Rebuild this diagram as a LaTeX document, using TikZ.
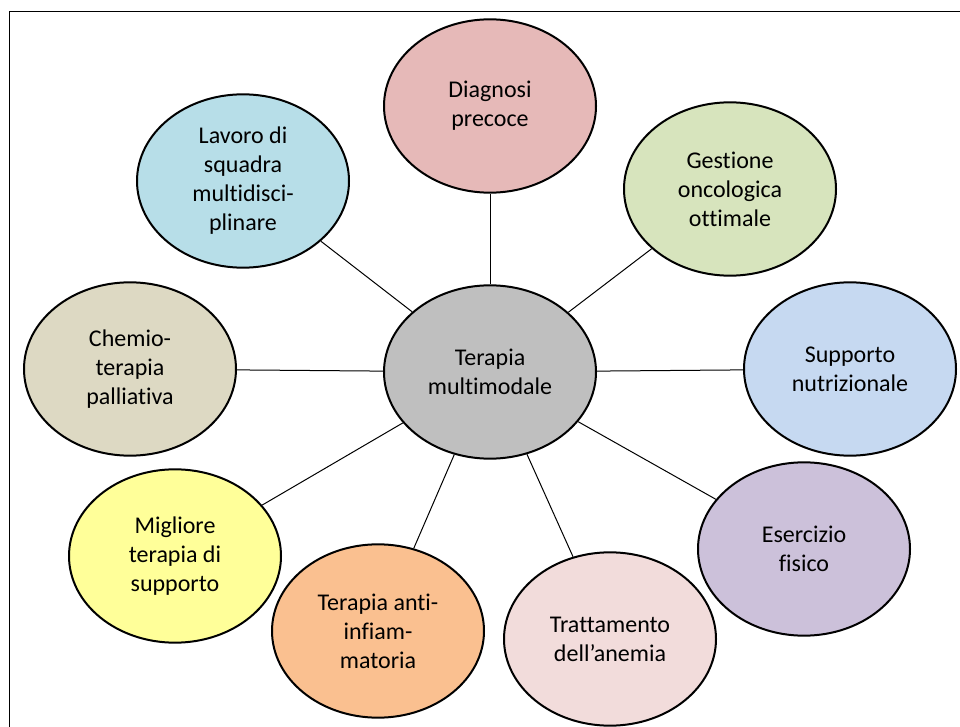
\documentclass[tikz,border=0pt]{standalone}
\usepackage{fontspec}
\setmainfont[Ligatures=NoCommon]{Carlito}
\usetikzlibrary{shapes.geometric}
\definecolor{diagpink}{HTML}{E6B9B8}
\definecolor{teamblue}{HTML}{B7DEE8}
\definecolor{oncogreen}{HTML}{D7E4BD}
\definecolor{nutriblue}{HTML}{C6D9F1}
\definecolor{eserlilac}{HTML}{CCC1DA}
\definecolor{anemrose}{HTML}{F2DCDB}
\definecolor{inflorange}{HTML}{FAC090}
\definecolor{suppyellow}{HTML}{FFFF99}
\definecolor{chemobeige}{HTML}{DDD9C3}
\definecolor{centergray}{HTML}{BFBFBF}
\begin{document}
\begin{tikzpicture}[x=0.75pt, y=-0.75pt,
    bubble/.style={ellipse, draw, line width=1.5pt, minimum width=159pt, minimum height=130pt,
      inner sep=0pt, align=center, font=\fontsize{18}{21.75}\selectfont},
    spoke/.style={line width=0.75pt}]
  \useasboundingbox (0, 0) rectangle (960, 727);
  \draw [line width=1.1pt] (9.5, 727) -- (9.5, 11.5) -- (960, 11.5);
  \node [bubble, fill=centergray] (multi) at (490, 372) {Terapia\\multimodale};
  \node [bubble, fill=diagpink] (diag) at (490, 106) {Diagnosi\\precoce};
  \node [bubble, fill=oncogreen] (onco) at (730, 189) {Gestione\\oncologica\\ottimale};
  \node [bubble, fill=nutriblue] (nutri) at (850, 369) {Supporto\\nutrizionale};
  \node [bubble, fill=eserlilac] (eser) at (804, 549) {Esercizio\\fisico};
  \node [bubble, fill=anemrose] (anem) at (610, 639) {Trattamento\\dell’anemia};
  \node [bubble, fill=inflorange] (infl) at (378, 631) {Terapia anti-\\infiam-\\matoria};
  \node [bubble, fill=suppyellow] (supp) at (175, 556) {Migliore\\terapia di\\supporto};
  \node [bubble, fill=chemobeige] (chemo) at (130, 369) {Chemio-\\terapia\\palliativa};
  \node [bubble, fill=teamblue] (team) at (243, 181) {Lavoro di\\squadra\\multidisci-\\plinare};
  \foreach \outer in {diag, onco, nutri, eser, anem, infl, supp, chemo, team}
    \draw [spoke] (multi) -- (\outer);
\end{tikzpicture}
\end{document}
